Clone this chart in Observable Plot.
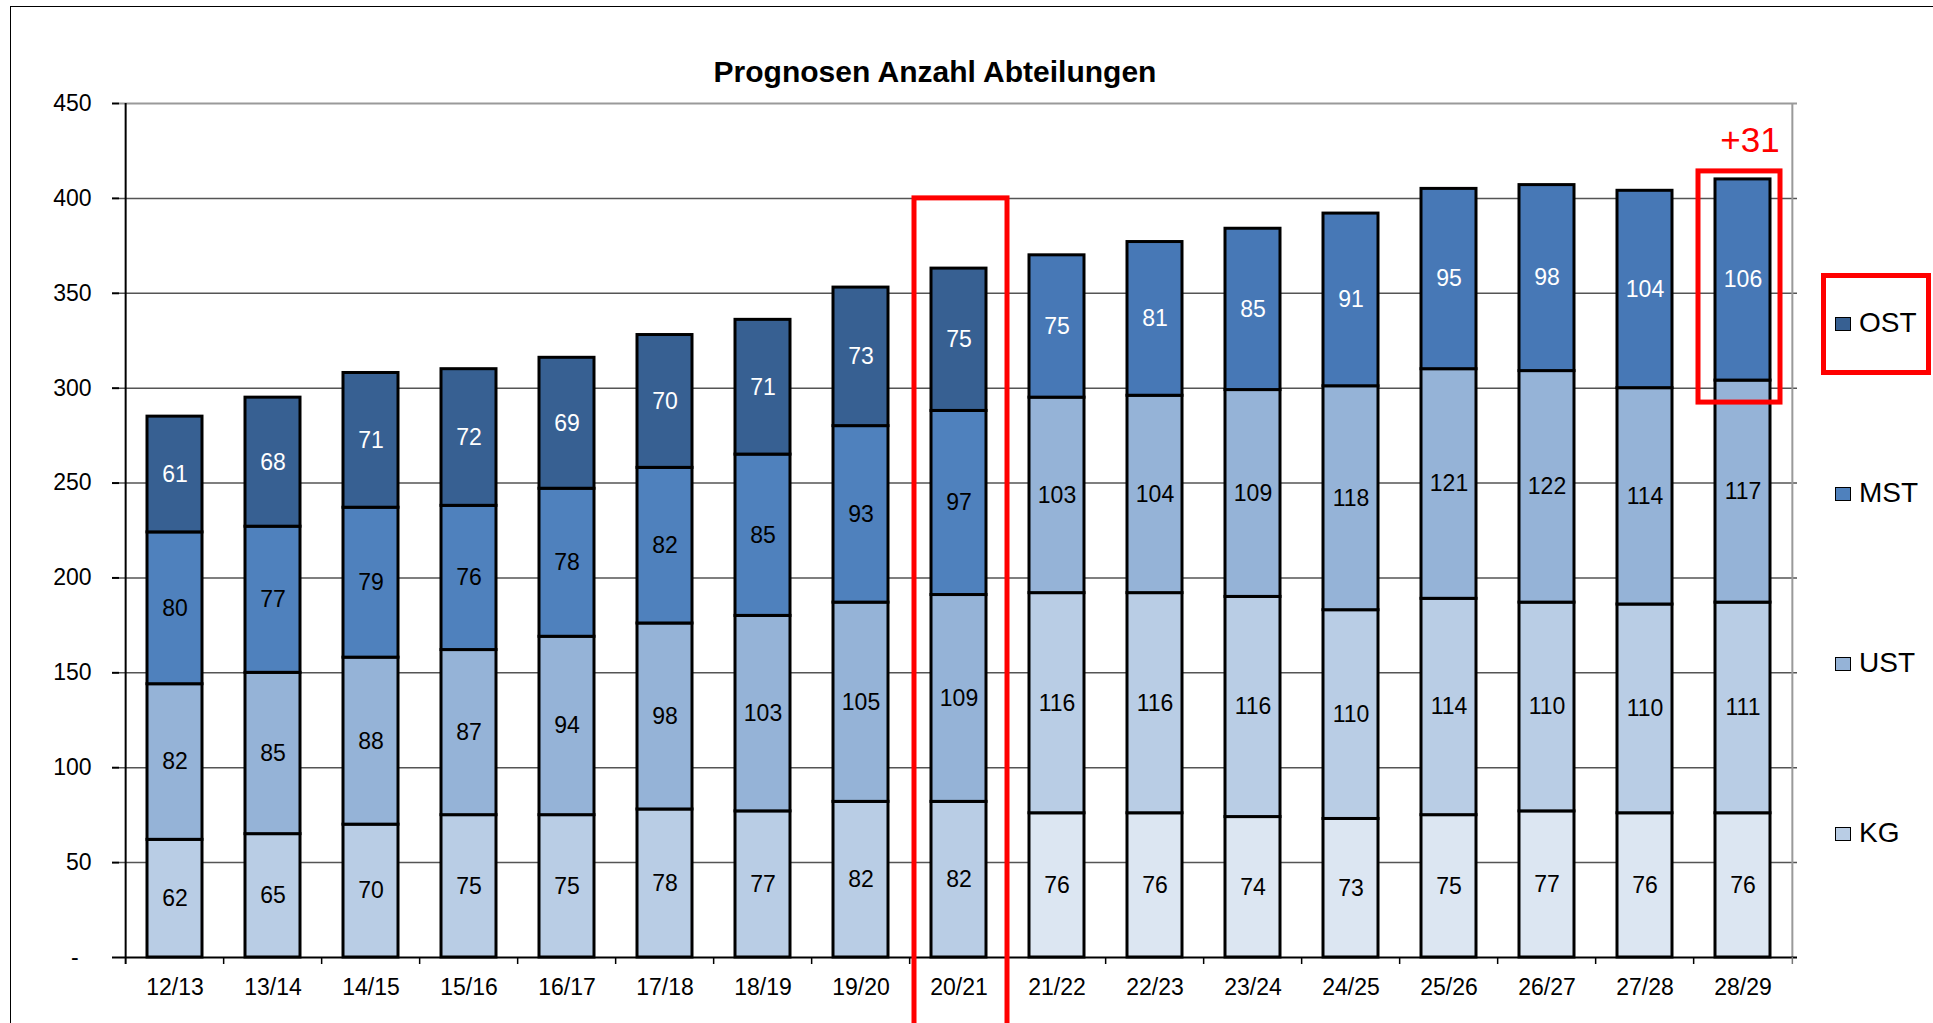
<!DOCTYPE html>
<html>
<head>
<meta charset="utf-8">
<script src="https://cdn.jsdelivr.net/npm/d3@7"></script>
<script src="https://cdn.jsdelivr.net/npm/@observablehq/plot@0.6"></script>
<style>
html, body { margin: 0; padding: 0; background: #fff; }
body { width: 1933px; height: 1023px; position: relative; overflow: hidden; font-family: "Liberation Sans", Arial, sans-serif; }
#chart { position: absolute; left: 0; top: 0; }
#frame { position: absolute; left: 10px; top: 6px; width: 1960px; height: 1060px; border-top: 1.5px solid #000; border-left: 1.5px solid #000; pointer-events: none; }
#title { position: absolute; left: 0; width: 1870px; top: 57px; line-height: 30px; text-align: center; font-weight: bold; font-size: 30px; color: #000; }
.leg { position: absolute; left: 1835px; height: 28px; line-height: 28px; font-size: 28px; color: #000; white-space: nowrap; }
.leg .sw { position: absolute; left: 0; top: 8px; width: 14px; height: 12px; border: 1.8px solid #000; }
.leg .lb { position: absolute; left: 24px; top: 0; }
#legbox { position: absolute; left: 1821px; top: 273px; width: 100px; height: 92px; border: 5px solid #ff0000; }
</style>
</head>
<body>
<div id="frame"></div>
<div id="title">Prognosen Anzahl Abteilungen</div>
<div id="chart"></div>
<div id="legend"></div>
<div id="legbox"></div>
<script>
// ---- data ----
const categories = ["12/13","13/14","14/15","15/16","16/17","17/18","18/19","19/20","20/21","21/22","22/23","23/24","24/25","25/26","26/27","27/28","28/29"];
const KG  = [62, 65, 70, 75, 75, 78, 77, 82, 82, 76, 76, 74, 73, 75, 77, 76, 76];
const UST = [82, 85, 88, 87, 94, 98, 103, 105, 109, 116, 116, 116, 110, 114, 110, 110, 111];
const MST = [80, 77, 79, 76, 78, 82, 85, 93, 97, 103, 104, 109, 118, 121, 122, 114, 117];
const OST = [61, 68, 71, 72, 69, 70, 71, 73, 75, 75, 81, 85, 91, 95, 98, 104, 106];
const seriesNames = ["KG", "UST", "MST", "OST"];
const legendOrder = ["OST", "MST", "UST", "KG"];
const yTicks = [0, 50, 100, 150, 200, 250, 300, 350, 400, 450];
const lastEarly = "20/21";      // highlighted current year
const highlightCat = "28/29";   // highlighted final year

// ---- styles ----
const colorsEarly = {KG: "#b9cde5", UST: "#95b3d7", MST: "#4f81bd", OST: "#376092"};
const colorsLate  = {KG: "#dce6f2", UST: "#b9cde5", MST: "#95b3d7", OST: "#4778b6"};
const legendColors = colorsEarly;
const legendTops = {OST: 309, MST: 479, UST: 649, KG: 819};

// ---- table ----
const values = {KG, UST, MST, OST};
const iEarly = categories.indexOf(lastEarly);
const rows = [];
categories.forEach((c, i) => {
  let base = 0;
  const pal = i > iEarly ? colorsLate : colorsEarly;
  for (const s of seriesNames) {
    const v = values[s][i];
    rows.push({cat: c, series: s, value: v, y1: base, y2: base + v, mid: base + v / 2,
               fill: pal[s], textFill: s === "OST" ? "#ffffff" : "#000000"});
    base += v;
  }
});
const totals = categories.map((c, i) => seriesNames.reduce((a, s) => a + values[s][i], 0));
const iHi = categories.indexOf(highlightCat);
const boxCurrent = [{cat: lastEarly, y1: 0, y2: Math.ceil(totals[iEarly] / 50) * 50}];
const boxFinal = [{cat: highlightCat, y1: totals[iHi] - OST[iHi], y2: totals[iHi]}];
const deltaLabel = [{cat: highlightCat, y: totals[iHi], text: "+" + (OST[iHi] - OST[iEarly])}];

// ---- layout ----
const W = 1933, H = 1023, mL = 119, mR = 136, mT = 103, mB = 66;
const step = (W - mL - mR) / categories.length;
const tickUnits = 7 * 450 / (H - mT - mB);
const font = "Liberation Sans, Arial, sans-serif";

const chart = Plot.plot({
  width: W, height: H,
  marginLeft: mL, marginRight: mR, marginTop: mT, marginBottom: mB,
  style: {fontFamily: font, background: "transparent", overflow: "visible", color: "#000"},
  x: {domain: categories, paddingInner: 0.44, paddingOuter: 0.22, label: null},
  y: {domain: [0, 450], label: null},
  color: {type: "identity"},
  marks: [
    Plot.ruleY(yTicks.filter(t => t > 0 && t < 450), {stroke: "#555", strokeWidth: 1.5}),
    Plot.ruleY([450], {stroke: "#9a9a9a", strokeWidth: 2}),
    Plot.ruleX([categories[categories.length - 1]], {x: d => d, dx: step / 2, y1: 0, y2: 450, stroke: "#9a9a9a", strokeWidth: 2}),
    Plot.barY(rows, {x: "cat", y1: "y1", y2: "y2", fill: "fill", stroke: "#000", strokeWidth: 3}),
    Plot.text(rows, {x: "cat", y: "mid", text: d => String(d.value), fill: "textFill", fontSize: 23, fontFamily: font}),
    Plot.ruleY([0], {stroke: "#000", strokeWidth: 2}),
    Plot.ruleX([categories[0]], {x: d => d, dx: -step / 2, y1: -tickUnits, y2: 450, stroke: "#000", strokeWidth: 2}),
    Plot.ruleX(categories.slice(1), {x: d => d, dx: -step / 2, y1: -tickUnits, y2: 0, stroke: "#000", strokeWidth: 1.5}),
    Plot.ruleX([categories[categories.length - 1]], {x: d => d, dx: step / 2, y1: -tickUnits, y2: 0, stroke: "#777", strokeWidth: 1.5}),
    Plot.axisY(yTicks, {tickSize: 7, tickPadding: 21, strokeWidth: 2, fontSize: 23, fontFamily: font,
      tickFormat: d => d === 0 ? "-\u00a0\u00a0" : String(d)}),
    Plot.axisX({tickSize: 0, tickPadding: 21, fontSize: 23, fontFamily: font}),
    Plot.barY(boxCurrent, {x: "cat", y1: "y1", y2: "y2", fill: "none", stroke: "#ff0000", strokeWidth: 5,
      insetLeft: -17, insetRight: -21, insetBottom: -90}),
    Plot.barY(boxFinal, {x: "cat", y1: "y1", y2: "y2", fill: "none", stroke: "#ff0000", strokeWidth: 5,
      insetLeft: -17, insetRight: -10, insetTop: -8, insetBottom: -22}),
    Plot.text(deltaLabel, {x: "cat", y: "y", text: "text", dy: -39, dx: 7, fill: "#ff0000", fontSize: 35, fontFamily: font})
  ]
});
document.getElementById("chart").appendChild(chart);

// ---- legend ----
const leg = document.getElementById("legend");
for (const s of legendOrder) {
  const item = document.createElement("div");
  item.className = "leg";
  item.style.top = legendTops[s] + "px";
  const sw = document.createElement("div");
  sw.className = "sw";
  sw.style.background = legendColors[s];
  const lb = document.createElement("div");
  lb.className = "lb";
  lb.textContent = s;
  item.appendChild(sw); item.appendChild(lb);
  leg.appendChild(item);
}
</script>
</body>
</html>
